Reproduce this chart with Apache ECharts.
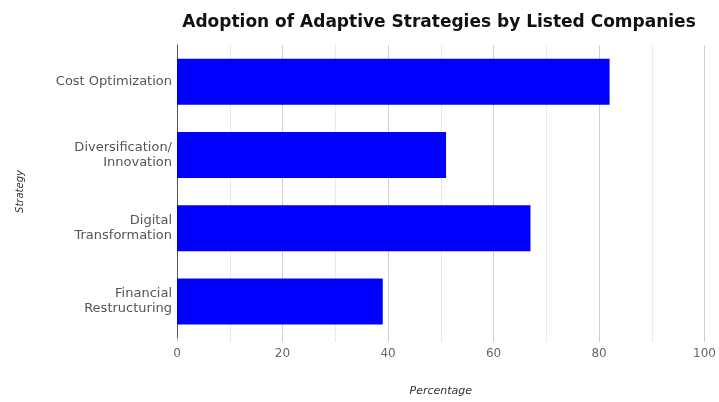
<!DOCTYPE html>
<html>
<head>
<meta charset="utf-8">
<script src="https://cdn.jsdelivr.net/npm/echarts@6/dist/echarts.min.js"></script>
<style>
  html, body { margin: 0; padding: 0; background: #fff; }
  #chart { width: 719px; height: 402px; }
</style>
</head>
<body>
<div id="chart"></div>
<script>
// Strategies, listed top to bottom
const strategies = [
  'Cost Optimization',
  'Diversification/\nInnovation',
  'Digital\nTransformation',
  'Financial\nRestructuring'
];
// Share of companies adopting each strategy (%)
const adoption = [82, 51, 67, 39];
const xTicks = [0, 20, 40, 60, 80, 100];

const chart = echarts.init(document.getElementById('chart'));
const font = '"DejaVu Sans", Verdana, sans-serif';

chart.setOption({
  animation: false,
  title: {
    text: 'Adoption of Adaptive Strategies by Listed Companies',
    left: 434,
    top: 9,
    textAlign: 'center',
    textStyle: { fontFamily: font, fontSize: 17, fontWeight: 'bold', color: '#111' }
  },
  grid: { left: 177, right: 8, top: 45, bottom: 64 },
  xAxis: {
    type: 'value',
    min: xTicks[0],
    max: xTicks[xTicks.length - 1],
    interval: 20,
    name: 'Percentage',
    nameLocation: 'middle',
    nameGap: 48,
    nameTextStyle: { fontFamily: font, fontSize: 11, fontStyle: 'italic', color: '#333' },
    axisLine: { show: false },
    axisTick: { show: true, length: 4, lineStyle: { color: '#ccc' } },
    minorTick: { show: true, splitNumber: 2, length: 4, lineStyle: { color: '#e6e6e6' } },
    axisLabel: { fontFamily: font, fontSize: 12, color: '#666', margin: 10 },
    splitLine: { show: true, lineStyle: { color: '#cfcfcf', width: 1 } },
    minorSplitLine: { show: true, lineStyle: { color: '#ebebeb', width: 1 } }
  },
  yAxis: {
    type: 'category',
    data: strategies,
    inverse: true,
    name: 'Strategy',
    nameLocation: 'middle',
    nameGap: 152,
    nameTextStyle: { fontFamily: font, fontSize: 10, fontStyle: 'italic', color: '#333' },
    axisLine: { show: true, lineStyle: { color: '#555', width: 1 } },
    axisTick: { show: false },
    axisLabel: { fontFamily: font, fontSize: 13, color: '#555', margin: 5, lineHeight: 15, align: 'right' },
    splitLine: { show: false }
  },
  series: [{
    type: 'bar',
    data: adoption,
    barWidth: 46,
    itemStyle: { color: '#0000FF' }
  }]
});
</script>
</body>
</html>
